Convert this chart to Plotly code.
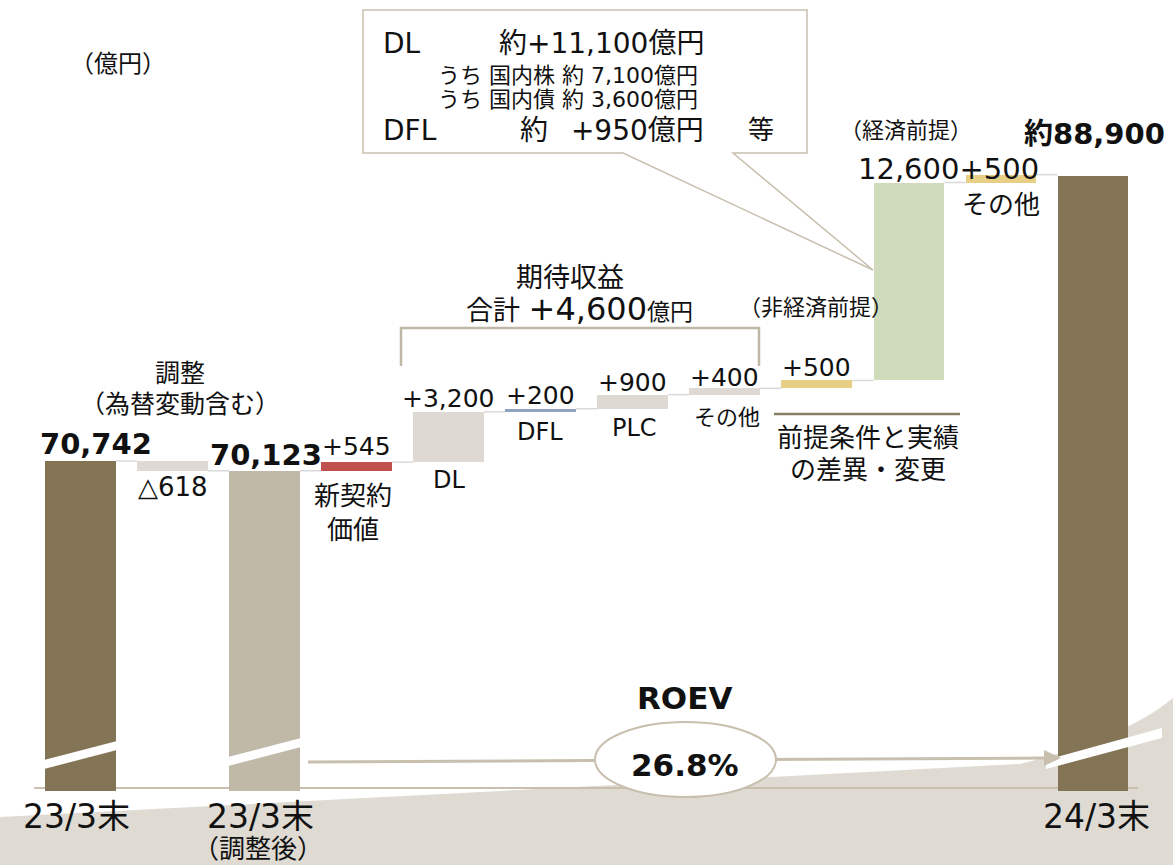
import plotly.graph_objects as go

W, H = 1173, 865

# ---------------- data ----------------
categories = ["23/3末", "調整", "23/3末（調整後）", "新契約価値", "DL", "DFL", "PLC",
              "その他", "非経済前提", "経済前提", "経済前提その他", "24/3末"]
ev_start = 70742
ev_adjusted = 70123
ev_end = 88900
step_values = [545, 3200, 200, 900, 400, 500, 12600, 500]
step_labels = ["+545", "+3,200", "+200", "+900", "+400", "+500", "12,600", "+500"]
total_labels = ["70,742", "70,123", "約88,900"]
adjust_label = "△618"
roev_label = "26.8%"
tick_labels = ["23/3末", "23/3末", "24/3末"]

# ---------------- styles ----------------
FONT = "DejaVu Sans, Noto Sans CJK JP"
DARK = "#837456"
ADJ = "#c1b9a7"
LIGHT = "#dedad3"
RED = "#c0504d"
BLUE = "#8ea3c0"
YELLOW = "#e7cf86"
GREEN = "#d0dbbb"
BEIGE = "#dfdbd3"
LINEC = "#c8bfae"
TXT = "#111111"

# axis mapping (broken axis: bars start at a visual floor)
PX_PER = 63.65
Y_TOP = 100085
Y_BOT = Y_TOP - H * PX_PER
X_LEFT = -0.8745
X_SPAN = 12.743
FLOOR = Y_TOP - 791 * PX_PER
BW = 0.77

# ---------------- bars ----------------
bases = [FLOOR, ev_adjusted, FLOOR]
tops = [ev_start, ev_start, ev_adjusted]
cum = ev_adjusted
for v in step_values:
    bases.append(cum)
    cum += v
    tops.append(cum)
bases.append(FLOOR)
tops.append(ev_end)
heights = [t - b for t, b in zip(tops, bases)]
colors = [DARK, LIGHT, ADJ, RED, LIGHT, BLUE, LIGHT, LIGHT, YELLOW, GREEN, YELLOW, DARK]
xs = list(range(len(categories)))

fig = go.Figure()

# connectors
cx, cy = [], []
for i in range(len(xs) - 1):
    lvl = bases[1] if i == 1 else tops[i]
    cx += [i + BW / 2, i + 1 - BW / 2, None]
    cy += [lvl, lvl, None]
fig.add_trace(go.Scatter(x=cx, y=cy, mode="lines", line=dict(color="#d9d9d9", width=1.5),
                         hoverinfo="skip", showlegend=False))

fig.add_trace(go.Bar(x=xs, y=heights, base=bases, width=BW, marker=dict(color=colors, line=dict(width=0)),
                     hovertext=categories, showlegend=False))


def P(x, y):
    return x / W, 1 - y / H


def path(pts, close=True):
    s = ""
    for k, (x, y) in enumerate(pts):
        a, b = P(x, y)
        s += ("M" if k == 0 else "L") + f"{a:.5f},{b:.5f} "
    return s + ("Z" if close else "")


shapes = []
# beige swoosh background
b0 = P(0, 817); b1 = P(1020, 764); bq = P(1125, 738); b2 = P(1173, 698); b3 = P(1173, 865); b4 = P(0, 865)
shapes.append(dict(type="path", xref="paper", yref="paper", layer="below",
                   path=f"M{b0[0]},{b0[1]} L{b1[0]},{b1[1]} Q{bq[0]},{bq[1]} {b2[0]},{b2[1]} L{b3[0]},{b3[1]} L{b4[0]},{b4[1]} Z",
                   fillcolor=BEIGE, line=dict(width=0)))
# baseline
a, b = P(34, 788); c, d = P(1138, 788)
shapes.append(dict(type="line", xref="paper", yref="paper", layer="below", x0=a, y0=b, x1=c, y1=d,
                   line=dict(color=LINEC, width=2)))
# break stripes
for pts in ([(44, 760), (117, 741), (117, 750), (44, 769)],
            [(228, 757), (301, 738), (301, 747), (228, 766)],
            [(1046, 760), (1162, 728), (1162, 738), (1046, 769)]):
    shapes.append(dict(type="path", xref="paper", yref="paper", path=path(pts),
                       fillcolor="white", line=dict(width=0)))
# ROEV arrow
a, b = P(308, 762); c, d = P(1047, 758)
shapes.append(dict(type="line", xref="paper", yref="paper", x0=a, y0=b, x1=c, y1=d,
                   line=dict(color=LINEC, width=3)))
shapes.append(dict(type="path", xref="paper", yref="paper",
                   path=path([(1061, 758), (1044, 750), (1044, 766)]), fillcolor=LINEC, line=dict(width=0)))
a, b = P(595, 722); c, d = P(776, 797)
shapes.append(dict(type="circle", xref="paper", yref="paper", x0=a, y0=b, x1=c, y1=d,
                   fillcolor="white", line=dict(color=LINEC, width=2)))
# callout box
shapes.append(dict(type="path", xref="paper", yref="paper",
                   path=path([(363, 10), (807, 10), (807, 153), (733, 153), (873, 270), (623, 153), (363, 153)]),
                   fillcolor="white", line=dict(color=LINEC, width=1.5)))
# bracket
shapes.append(dict(type="path", xref="paper", yref="paper",
                   path=path([(401, 366), (401, 328), (759, 328), (759, 366)], close=False),
                   line=dict(color="#c0b8a7", width=2.5)))
# underline
a, b = P(774, 414); c, d = P(960, 414)
shapes.append(dict(type="line", xref="paper", yref="paper", x0=a, y0=b, x1=c, y1=d,
                   line=dict(color="#8a7d65", width=2.5)))

ann = []


def T(text, x, y, size, bold=False, xanchor="center", color=TXT):
    a, b = P(x, y)
    if bold:
        text = f"<b>{text}</b>"
    ann.append(dict(text=text, x=a, y=b, xref="paper", yref="paper", showarrow=False,
                    xanchor=xanchor, yanchor="middle", font=dict(family=FONT, size=size, color=color)))


def V(text, i, val, dy, size, bold=False, dx=0):
    if bold:
        text = f"<b>{text}</b>"
    ann.append(dict(text=text, x=i, y=val, xref="x", yref="y", showarrow=False,
                    xanchor="center", yanchor="middle", xshift=dx, yshift=dy,
                    font=dict(family=FONT, size=size, color=TXT)))


# totals
V(total_labels[0], 0, tops[0], 17, 29, bold=True, dx=15)
V(total_labels[1], 2, tops[2], 16, 29, bold=True, dx=1)
V(total_labels[2], 11, tops[11], 42, 29, bold=True, dx=1)
V(adjust_label, 1, bases[1], -16, 26)
# steps
V(step_labels[0], 3, tops[3], 16, 25)
V(step_labels[1], 4, tops[4], 13, 25)
V(step_labels[2], 5, tops[5], 13, 25)
V(step_labels[3], 6, tops[6], 12, 25)
V(step_labels[4], 7, tops[7], 11, 25)
V(step_labels[5], 8, tops[8], 13, 25)
V(step_labels[6] + step_labels[7], 9, tops[9], 14, 29, dx=40)

# category texts
T("（億円）", 118, 64, 24)
T("調整", 180, 373, 25)
T("（為替変動含む）", 180, 404, 25)
T("新契約<br>価値", 353, 513, 26)
T("DL", 449, 480, 24)
T("DFL", 540, 432, 24)
T("PLC", 634, 428, 24)
T("その他", 727, 417, 22)
T("期待収益", 570, 277, 27)
T("合計 <span style='font-size:32px'>+4,600</span><span style='font-size:23px'>億円</span>", 579, 309, 27)
T("（非経済前提）", 816, 307, 22)
T("前提条件と実績", 868, 438, 26)
T("の差異・変更", 868, 470, 26)
T("（経済前提）", 906, 130, 22)
T("その他", 1001, 205, 26)
T("ROEV", 684, 698, 31, bold=True)
T(roev_label, 685, 765, 31, bold=True)
# tick labels
T(tick_labels[0], 76, 816, 33)
T(tick_labels[1], 260, 816, 33)
T("（調整後）", 258, 849, 26)
T(tick_labels[2], 1096, 816, 33)
# callout texts
T("DL", 381, 43, 28, xanchor="left")
T("約+11,100億円", 706, 43, 28, xanchor="right")
T("うち 国内株 約 7,100億円", 700, 76, 22, xanchor="right")
T("うち 国内債 約 3,600億円", 700, 100, 22, xanchor="right")
T("DFL", 381, 130, 28, xanchor="left")
T("約 \u2002+950億円", 706, 130, 28, xanchor="right")
T("等", 746, 130, 26, xanchor="left")

fig.update_layout(
    width=W, height=H, margin=dict(l=0, r=0, t=0, b=0),
    paper_bgcolor="white", plot_bgcolor="rgba(0,0,0,0)",
    xaxis=dict(range=[X_LEFT, X_LEFT + X_SPAN], visible=False, fixedrange=True),
    yaxis=dict(range=[Y_BOT, Y_TOP], visible=False, fixedrange=True),
    shapes=shapes, annotations=ann, bargap=0, showlegend=False,
)
fig.write_html("out.html", config={"displayModeBar": False},
               post_script="document.body.style.margin='0';document.body.style.padding='0';document.body.style.overflow='hidden';")
